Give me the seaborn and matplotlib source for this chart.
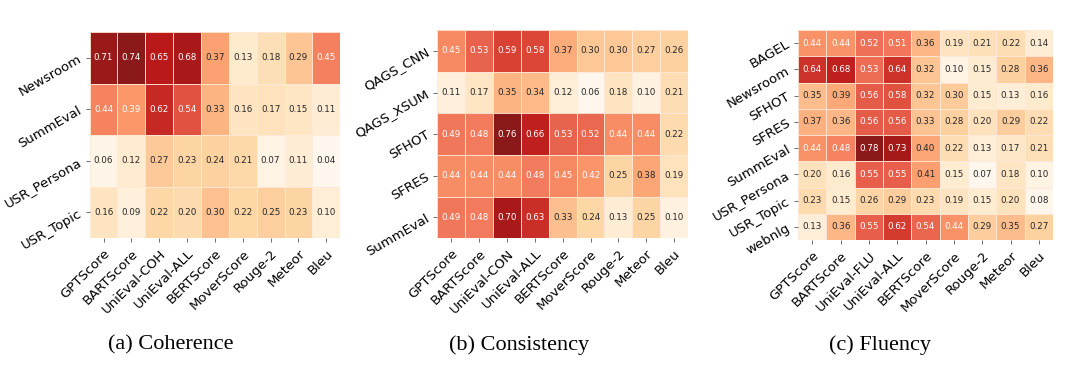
import numpy as np
import pandas as pd
import matplotlib
matplotlib.use('Agg')
import matplotlib.pyplot as plt
import seaborn as sns

# Метрики (стовпці) для кожної панелі
cols_coh = ['GPTScore', 'BARTScore', 'UniEval-COH', 'UniEval-ALL', 'BERTScore',
            'MoverScore', 'Rouge-2', 'Meteor', 'Bleu']
cols_con = ['GPTScore', 'BARTScore', 'UniEval-CON', 'UniEval-ALL', 'BERTScore',
            'MoverScore', 'Rouge-2', 'Meteor', 'Bleu']
cols_flu = ['GPTScore', 'BARTScore', 'UniEval-FLU', 'UniEval-ALL', 'BERTScore',
            'MoverScore', 'Rouge-2', 'Meteor', 'Bleu']

# (a) Coherence
rows_coh = ['Newsroom', 'SummEval', 'USR_Persona', 'USR_Topic']
vals_coh = [
    [0.71, 0.74, 0.65, 0.68, 0.37, 0.13, 0.18, 0.29, 0.45],
    [0.44, 0.39, 0.62, 0.54, 0.33, 0.16, 0.17, 0.15, 0.11],
    [0.06, 0.12, 0.27, 0.23, 0.24, 0.21, 0.07, 0.11, 0.04],
    [0.16, 0.09, 0.22, 0.20, 0.30, 0.22, 0.25, 0.23, 0.10],
]

# (b) Consistency
rows_con = ['QAGS_CNN', 'QAGS_XSUM', 'SFHOT', 'SFRES', 'SummEval']
vals_con = [
    [0.45, 0.53, 0.59, 0.58, 0.37, 0.30, 0.30, 0.27, 0.26],
    [0.11, 0.17, 0.35, 0.34, 0.12, 0.06, 0.18, 0.10, 0.21],
    [0.49, 0.48, 0.76, 0.66, 0.53, 0.52, 0.44, 0.44, 0.22],
    [0.44, 0.44, 0.44, 0.48, 0.45, 0.42, 0.25, 0.38, 0.19],
    [0.49, 0.48, 0.70, 0.63, 0.33, 0.24, 0.13, 0.25, 0.10],
]

# (c) Fluency
rows_flu = ['BAGEL', 'Newsroom', 'SFHOT', 'SFRES', 'SummEval',
            'USR_Persona', 'USR_Topic', 'webnlg']
vals_flu = [
    [0.44, 0.44, 0.52, 0.51, 0.36, 0.19, 0.21, 0.22, 0.14],
    [0.64, 0.68, 0.53, 0.64, 0.32, 0.10, 0.15, 0.28, 0.36],
    [0.35, 0.39, 0.56, 0.58, 0.32, 0.30, 0.15, 0.13, 0.16],
    [0.37, 0.36, 0.56, 0.56, 0.33, 0.28, 0.20, 0.29, 0.22],
    [0.44, 0.48, 0.78, 0.73, 0.40, 0.22, 0.13, 0.17, 0.21],
    [0.20, 0.16, 0.55, 0.55, 0.41, 0.15, 0.07, 0.18, 0.10],
    [0.23, 0.15, 0.26, 0.29, 0.23, 0.19, 0.15, 0.20, 0.08],
    [0.13, 0.36, 0.55, 0.62, 0.54, 0.44, 0.29, 0.35, 0.27],
]

captions = ['(a) Coherence', '(b) Consistency', '(c) Fluency']

panels = [
    (vals_coh, rows_coh, cols_coh),
    (vals_con, rows_con, cols_con),
    (vals_flu, rows_flu, cols_flu),
]

# Розташування осей у частках фігури
positions = [
    [0.083, 0.375, 0.232, 0.541],
    [0.405, 0.375, 0.232, 0.546],
    [0.739, 0.370, 0.236, 0.551],
]
caption_x = [0.158, 0.481, 0.815]

fig = plt.figure(figsize=(10.8, 3.81), dpi=100)

for (vals, rows, cols), pos, cap, cx in zip(panels, positions, captions, caption_x):
    ax = fig.add_axes(pos)
    df = pd.DataFrame(vals, index=rows, columns=cols)
    sns.heatmap(df, ax=ax, cmap='OrRd', annot=True, fmt='.2f', cbar=False,
                linewidths=0.4, linecolor='#fde9d8', alpha=0.9,
                annot_kws={'fontsize': 6.3})
    ax.set_xticklabels(ax.get_xticklabels(), rotation=45, ha='right',
                       rotation_mode='anchor', fontsize=9.5)
    ax.set_yticklabels(ax.get_yticklabels(), rotation=30, ha='right',
                       rotation_mode='anchor', fontsize=9.5)
    ax.tick_params(length=3, width=0.6, color='#555555')
    fig.text(cx, 0.095, cap, ha='center', va='center',
             fontsize=16, family='Liberation Serif')

plt.savefig('out.png', dpi=100)
